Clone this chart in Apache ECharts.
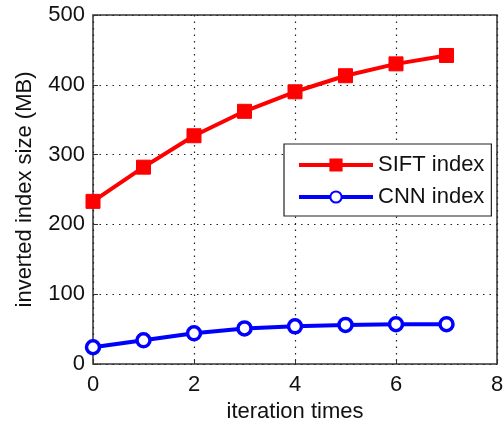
<!DOCTYPE html>
<html><head><meta charset="utf-8">
<script src="https://cdn.jsdelivr.net/npm/echarts@6/dist/echarts.min.js"></script>
<style>html,body{margin:0;padding:0;background:#fff}#c{width:504px;height:424px}</style>
</head><body><div id="c"></div>
<script>
const iterations = [0, 1, 2, 3, 4, 5, 6, 7];
const siftIndex = [233, 282, 327, 362, 390, 413, 430, 442];
const cnnIndex = [24, 34, 44, 51, 54, 56, 57, 57];
const seriesNames = ['SIFT index', 'CNN index'];
const xName = 'iteration times';
const yName = 'inverted index size (MB)';

const font = 'Liberation Sans, Arial, sans-serif';
const fs = 22;
const chart = echarts.init(document.getElementById('c'));
const pairs = (vals) => iterations.map((x, i) => [x, vals[i]]);
chart.setOption({
  animation: false,
  grid: { left: 93, top: 15, right: 7, bottom: 60, containLabel: false, outerBoundsMode: 'none',
          show: true, borderColor: '#333', borderWidth: 1.5 },
  legend: {
    orient: 'vertical', left: 284, top: 144,
    backgroundColor: '#fff', borderColor: '#222', borderWidth: 1.2,
    padding: [10, 7, 8, 13], itemGap: 10, itemWidth: 74, itemHeight: 14,
    lineStyle: { width: 4 },
    textStyle: { fontFamily: font, fontSize: fs, color: '#111' },
    data: seriesNames
  },
  xAxis: {
    type: 'value', min: 0, max: 8, interval: 2,
    name: xName, nameLocation: 'middle', nameGap: 36,
    nameTextStyle: { fontFamily: font, fontSize: fs, color: '#111' },
    axisLine: { show: false },
    axisTick: { inside: true, length: 5, lineStyle: { color: '#333' } },
    axisLabel: { fontFamily: font, fontSize: fs, color: '#111', margin: 10 },
    splitLine: { show: true, lineStyle: { color: '#222', type: [1.5, 5], width: 1.2 } }
  },
  yAxis: {
    type: 'value', min: 0, max: 500, interval: 100,
    name: yName, nameLocation: 'middle', nameGap: 57,
    nameTextStyle: { fontFamily: font, fontSize: fs, color: '#111' },
    axisLine: { show: false },
    axisTick: { inside: true, length: 5, lineStyle: { color: '#333' } },
    axisLabel: { fontFamily: font, fontSize: fs, color: '#111', margin: 8 },
    splitLine: { show: true, lineStyle: { color: '#222', type: [1.5, 5], width: 1.2 } }
  },
  series: [
    {
      name: seriesNames[0], type: 'line', data: pairs(siftIndex),
      symbol: 'rect', symbolSize: 14,
      itemStyle: { color: '#ff0000', borderColor: '#ff0000', borderWidth: 1 },
      lineStyle: { color: '#ff0000', width: 4 }
    },
    {
      name: seriesNames[1], type: 'line', data: pairs(cnnIndex),
      symbol: 'circle', symbolSize: 13,
      itemStyle: { color: '#fff', borderColor: '#0000ff', borderWidth: 3.5 },
      lineStyle: { color: '#0000ff', width: 4 }
    }
  ]
});
</script></body></html>
